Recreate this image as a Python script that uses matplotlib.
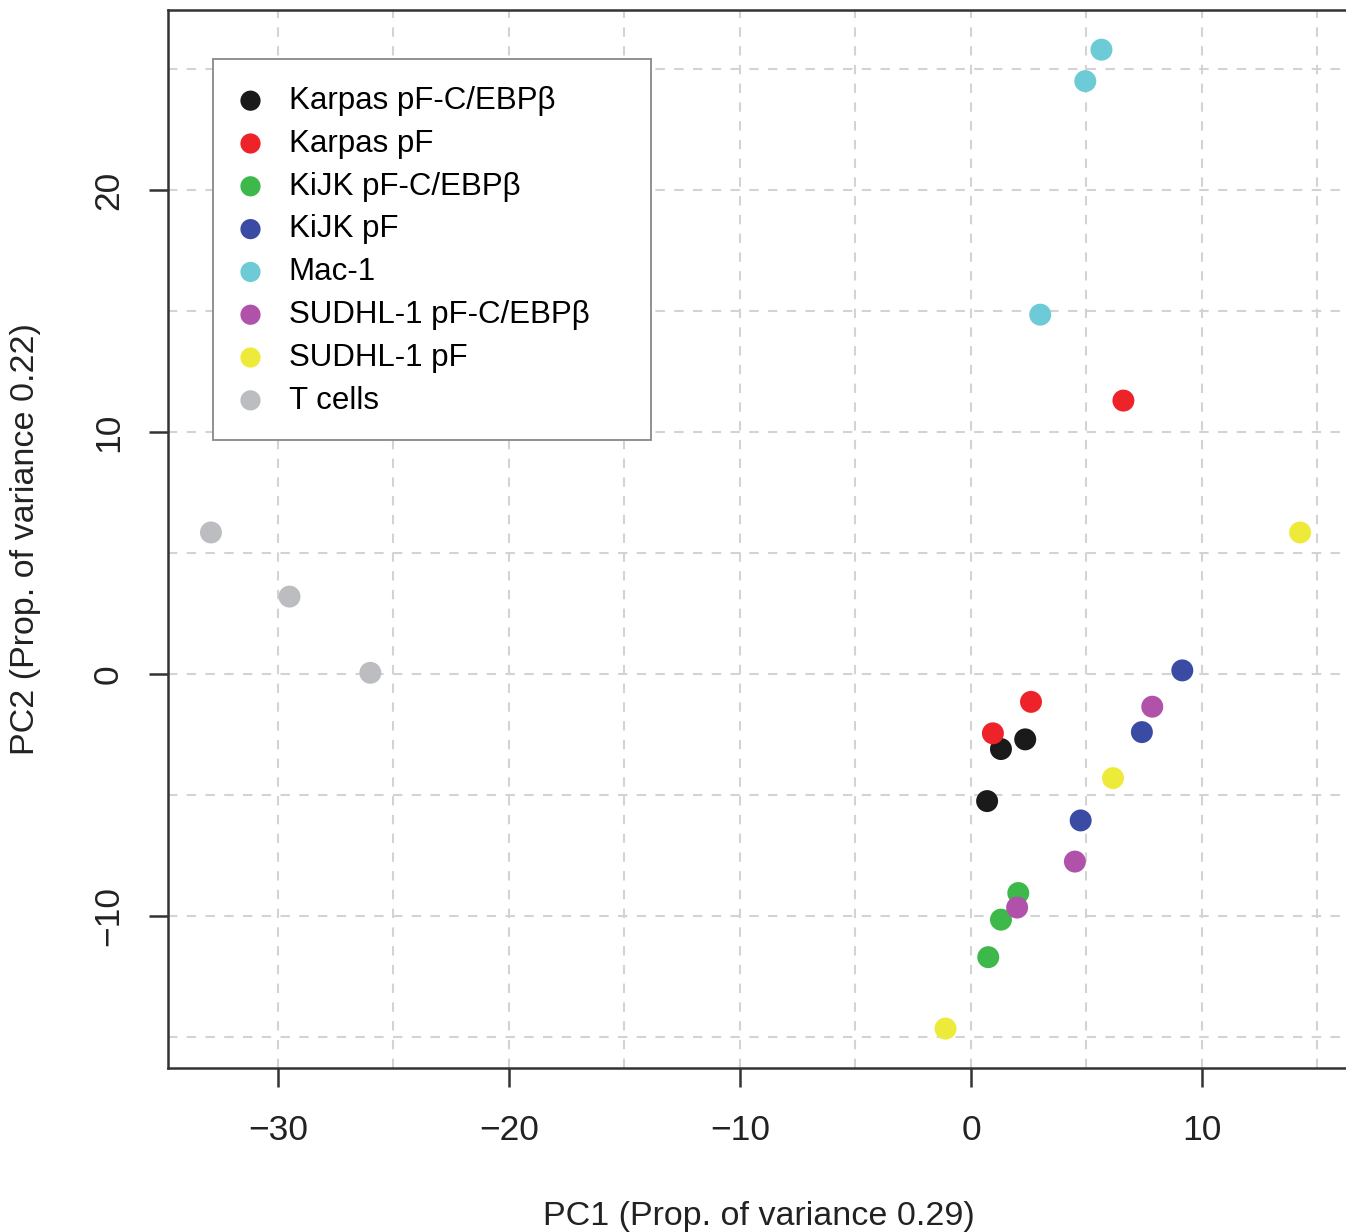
import numpy as np
import matplotlib.pyplot as plt
from matplotlib.ticker import MultipleLocator
from matplotlib.patches import Rectangle

plt.rcParams['font.family'] = ['Liberation Sans', 'DejaVu Sans']

# PCA scores
groups = ['Karpas pF-C/EBP\u03b2', 'Karpas pF', 'KiJK pF-C/EBP\u03b2', 'KiJK pF',
          'Mac-1', 'SUDHL-1 pF-C/EBP\u03b2', 'SUDHL-1 pF', 'T cells']
colors = ['#1a1a1a', '#ee2229', '#3db84a', '#3a4ba3',
          '#6ccbd6', '#b052aa', '#eeea3a', '#bcbdc0']

pc1 = [
    [1.3, 2.35, 0.7],        # Karpas pF-C/EBPb
    [6.6, 2.6, 0.95],        # Karpas pF
    [2.05, 1.3, 0.75],       # KiJK pF-C/EBPb
    [9.15, 7.4, 4.75],       # KiJK pF
    [5.65, 4.95, 3.0],       # Mac-1
    [7.85, 4.5, 2.0],        # SUDHL-1 pF-C/EBPb
    [14.25, 6.15, -1.1],     # SUDHL-1 pF
    [-32.9, -29.5, -26.0],   # T cells
]
pc2 = [
    [-3.1, -2.7, -5.25],
    [11.3, -1.15, -2.45],
    [-9.05, -10.15, -11.7],
    [0.15, -2.4, -6.05],
    [25.8, 24.5, 14.85],
    [-1.35, -7.75, -9.65],
    [5.85, -4.3, -14.65],
    [5.85, 3.2, 0.05],
]

xticks = [-30, -20, -10, 0, 10]
yticks = [-10, 0, 10, 20]

fig = plt.figure(figsize=(13.46, 12.32), dpi=100)
ax = fig.add_axes([168 / 1346, 1 - 1068 / 1232, (1350 - 168) / 1346, (1068 - 10) / 1232])

for name, col, xs, ys in zip(groups, colors, pc1, pc2):
    ax.scatter(xs, ys, s=250, color=col, edgecolors='none', label=name, zorder=3)

ax.set_xlim(-34.76, 16.41)
ax.set_ylim(-16.28, 27.44)
ax.set_xticks(xticks)
ax.set_yticks(yticks)
ax.xaxis.set_minor_locator(MultipleLocator(5))
ax.yaxis.set_minor_locator(MultipleLocator(5))
ax.tick_params(which='major', length=14, width=1.8, color='#333333',
               labelsize=25.5, labelcolor='#222222')
ax.tick_params(axis='x', which='major', pad=19)
ax.tick_params(axis='y', which='major', pad=17)
ax.tick_params(which='minor', length=0)
for lab in ax.get_yticklabels():
    lab.set_rotation(90)
    lab.set_va('center')

ax.grid(True, which='both', color='#d3d3d3', linestyle=(0, (4.5, 4.5)), linewidth=1.5, zorder=0)
ax.set_axisbelow(True)
for sp in ax.spines.values():
    sp.set_linewidth(1.8)
    sp.set_color('#333333')

ax.set_xlabel('PC1 (Prop. of variance 0.29)', fontsize=24.5, labelpad=39, color='#222222')
ax.set_ylabel('PC2 (Prop. of variance 0.22)', fontsize=24.5, labelpad=37, color='#222222')

# legend box (R style, extra space on the right)
box = Rectangle((45 / 1182, (1068 - 440) / 1058), (651 - 213) / 1182, (440 - 59) / 1058,
                transform=ax.transAxes, facecolor='white', edgecolor='#888888',
                linewidth=1.3, zorder=4)
ax.add_patch(box)

leg = ax.legend(loc='upper left', bbox_to_anchor=(40 / 1182, (1068 - 59) / 1058),
                borderaxespad=0, fontsize=22.5, frameon=False,
                markerscale=0.92, handletextpad=0.72, labelspacing=0.41,
                borderpad=0.86, handlelength=1.0)
leg.set_zorder(5)

plt.savefig('out.png', dpi=100)
